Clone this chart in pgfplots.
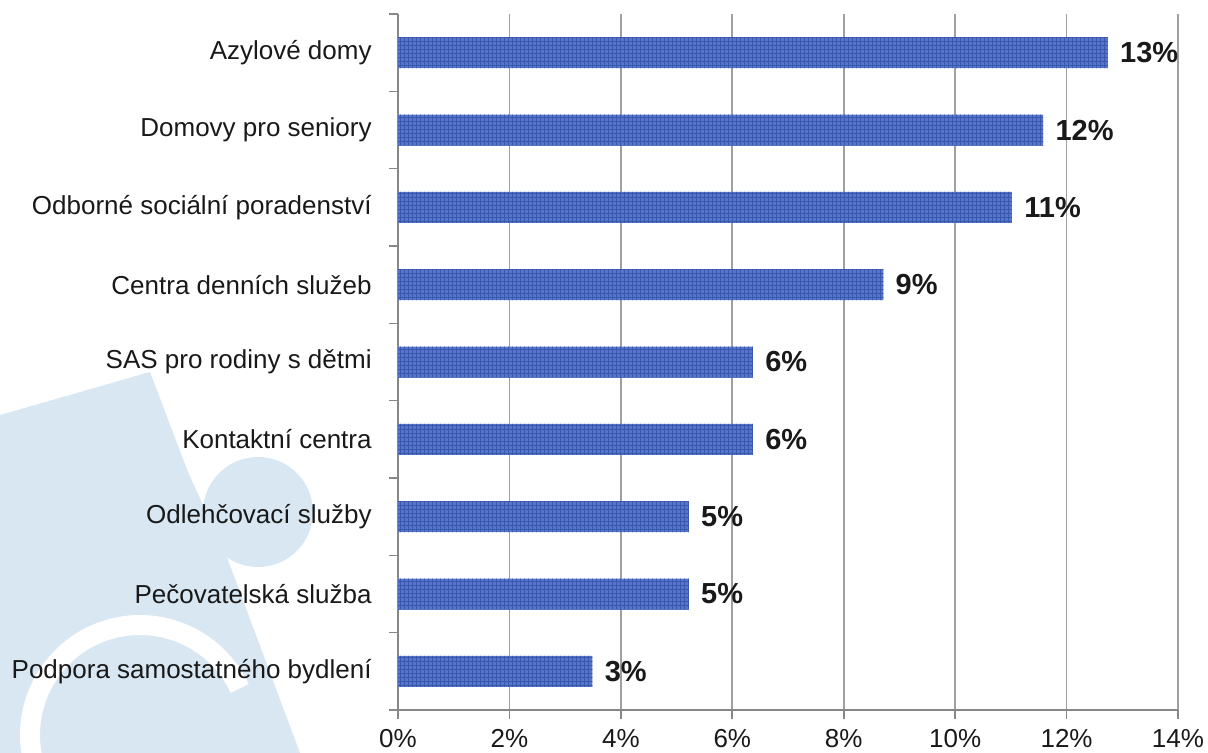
\documentclass[border=0pt]{standalone}
\usepackage{pgfplots}
\pgfplotsset{compat=1.18}
\usepackage{pgfplotstable}
\usepackage{fontspec}
\setmainfont{Liberation Sans}
\usetikzlibrary{patterns.meta}
\definecolor{barblue}{RGB}{86,118,204}
\definecolor{barline}{RGB}{58,88,174}
\definecolor{gridgray}{RGB}{160,160,160}
\definecolor{axisgray}{RGB}{135,135,135}
\definecolor{wm}{RGB}{216,231,242}
\definecolor{txt}{RGB}{25,25,25}

\pgfplotstableread{
y val lab
0 3.49 3
1 5.22 5
2 5.22 5
3 6.37 6
4 6.37 6
5 8.71 9
6 11.02 11
7 11.58 12
8 12.74 13
}\data

\begin{document}
\begin{tikzpicture}
\useasboundingbox (0,0) rectangle (604pt,-376.5pt);
\begin{scope}[x=0.5pt,y=-0.5pt]
  \fill[wm] (0,415) -- (150,372) -- (188,472) -- (228,560) -- (300,753) -- (0,753) -- cycle;
  \fill[wm] (258,512) circle (55);
  \draw[white, line width=10pt] (140,735) ++(165:110) arc (165:335:110);
\end{scope}
\begin{axis}[
  at={(199pt,-355pt)}, anchor=south west,
  scale only axis, width=390pt, height=348pt,
  xmin=0, xmax=14, ymin=-0.5, ymax=8.5,
  axis x line*=bottom, axis y line*=left,
  axis line style={axisgray, line width=0.8pt},
  xbar, bar width=15.5pt, bar shift=0pt,
  xtick={0,2,...,14},
  xticklabels={0\%,2\%,4\%,6\%,8\%,10\%,12\%,14\%},
  ytick={0,...,8},
  yticklabels={Podpora samostatného bydlení, Pečovatelská služba, Odlehčovací služby, Kontaktní centra, SAS pro rodiny s dětmi, Centra denních služeb, Odborné sociální poradenství, Domovy pro seniory, Azylové domy},
  minor ytick={-0.5,0.5,...,8.5},
  tick align=outside,
  major tick length=4.5pt, minor tick length=4.5pt,
  major y tick style={draw=none},
  tick style={axisgray, line width=0.8pt},
  xmajorgrids, grid style={gridgray, line width=0.8pt},
  yticklabel style={font=\fontsize{13}{15}\selectfont, text=txt, inner sep=0pt, xshift=-8.5pt},
  xticklabel style={font=\fontsize{13}{15}\selectfont, text=txt, inner sep=0pt, yshift=-5pt},
  point meta=explicit symbolic,
  nodes near coords={\pgfplotspointmeta\%},
  every node near coord/.append style={font=\bfseries\fontsize{14.5}{17}\selectfont, text=txt, anchor=west, inner sep=0pt, xshift=6pt},
]
\addplot[fill=barblue, draw=none, postaction={pattern={Hatch[angle=0,distance=2pt,line width=0.3pt]}, pattern color=barline}] table[x=val, y=y, meta=lab] {\data};
\end{axis}
\end{tikzpicture}
\end{document}
